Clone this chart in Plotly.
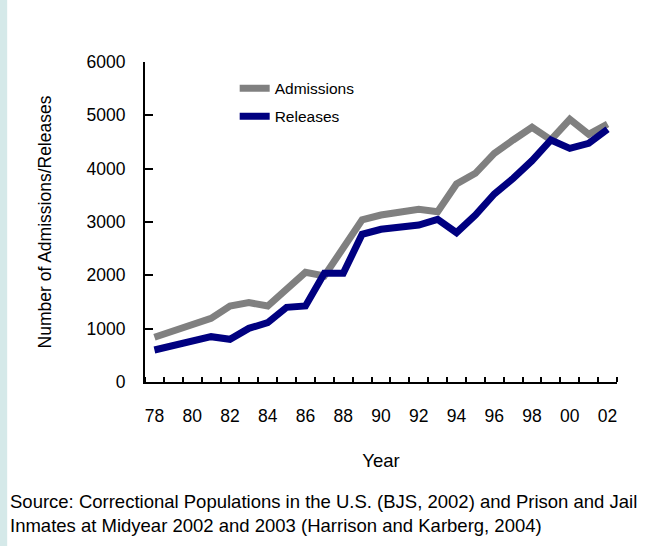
import plotly.graph_objects as go

years = list(range(1978, 2003))
year_labels = ["78", "80", "82", "84", "86", "88", "90", "92", "94", "96", "98", "00", "02"]
label_years = list(range(1978, 2003, 2))
admissions = [840, 956, 1100, 1194, 1425, 1488, 1425, 1738, 2056, 1988, 2538, 3040,
              3131, 3175, 3238, 3194, 3713, 3913, 4288, 4538, 4775, 4538, 4925, 4644, 4838]
releases = [600, 675, 756, 850, 800, 1006, 1113, 1400, 1425, 2038, 2038, 2770,
            2863, 2913, 2944, 3050, 2800, 3131, 3525, 3819, 4150, 4538, 4381, 4475, 4738]

FONT = "Liberation Sans, Arial, sans-serif"

fig = go.Figure()
fig.add_trace(go.Scatter(x=years, y=admissions, mode="lines", name="Admissions",
                         legendgroup="a",
                         line=dict(color="#808080", width=7)))
fig.add_trace(go.Scatter(x=years, y=releases, mode="lines", name="Releases",
                         legendgroup="r",
                         line=dict(color="#000080", width=7)))

fig.update_layout(
    width=670, height=546,
    margin=dict(l=145, r=53, t=62, b=164),
    paper_bgcolor="white", plot_bgcolor="white",
    font=dict(family=FONT, size=17.5, color="black"),
    showlegend=True,
    legend=dict(x=0.19, y=0.97, xanchor="left", yanchor="top",
                bgcolor="rgba(0,0,0,0)", font=dict(size=15.5), tracegroupgap=5,
                itemwidth=30),
    xaxis=dict(range=[1977.5, 2002.5], tickvals=label_years, ticktext=year_labels,
               ticks="", showgrid=False, zeroline=False,
               showline=True, linecolor="black", linewidth=2,
               ticklabelstandoff=17,
               minor=dict(tickmode="linear", tick0=1977.5, dtick=1, ticks="inside",
                          ticklen=5, tickwidth=2, tickcolor="black", showgrid=False),
               title=dict(text="Year", standoff=29, font=dict(size=18.5))),
    yaxis=dict(range=[0, 6000], dtick=1000, ticks="inside", ticklen=8, tickwidth=2,
               tickcolor="black", showgrid=False, zeroline=False,
               showline=True, linecolor="black", linewidth=2,
               ticklabelstandoff=14,
               title=dict(text="Number of Admissions/Releases", standoff=30,
                          font=dict(size=17.5))),
    shapes=[dict(type="rect", xref="paper", yref="paper",
                 x0=-0.31, x1=-0.292, y0=-0.52, y1=1.2,
                 fillcolor="#d5e9e9", line=dict(width=0), layer="below")],
    annotations=[dict(xref="paper", yref="paper", x=-0.29, y=-0.333,
                      xanchor="left", yanchor="top", align="left", showarrow=False,
                      text="Source: Correctional Populations in the U.S. (BJS, 2002) and Prison and Jail<br>"
                           "Inmates at Midyear 2002 and 2003 (Harrison and Karberg, 2004)",
                      font=dict(size=18.5, color="black"))],
)

fig.write_html("out.html", config={"displayModeBar": False},
               post_script="document.body.style.margin='0';")
